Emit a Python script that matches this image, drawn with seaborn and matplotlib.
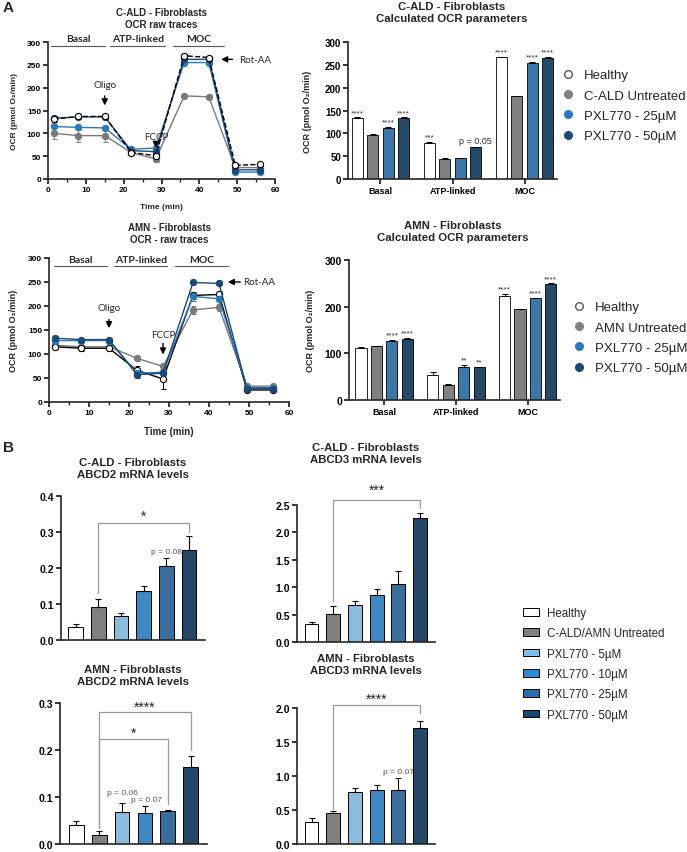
import numpy as np
import pandas as pd
import matplotlib.pyplot as plt
import seaborn as sns
from matplotlib.ticker import MultipleLocator
from matplotlib.lines import Line2D
from matplotlib.patches import Patch

W, H = 687, 853

# ---------------- Panel A: OCR raw traces ----------------
trace_time = [1.5, 8, 15, 22, 28.5, 36, 42.5, 49.5, 56]

cald_healthy = [131, 137, 137, 58, 51, 270, 266, 30, 32]
cald_untreated = [100, 95, 95, 58, 44, 182, 180, 25, 25]
cald_pxl25 = [115, 113, 112, 65, 68, 255, 255, 15, 15]
cald_pxl50 = [133, 136, 136, 62, 60, 262, 262, 20, 20]
cald_healthy_err = [7, 6, 6, 4, 6, 4, 4, 4, 4]
cald_untreated_err = [12, 13, 13, 4, 6, 3, 3, 3, 3]
cald_pxl25_err = [4, 4, 4, 4, 4, 4, 4, 3, 3]
cald_pxl50_err = [4, 4, 4, 4, 4, 4, 4, 3, 3]

amn_healthy = [115, 112, 112, 66, 48, 222, 224, 25, 25]
amn_untreated = [118, 115, 115, 91, 74, 192, 197, 33, 33]
amn_pxl25 = [128, 128, 128, 60, 62, 220, 215, 30, 30]
amn_pxl50 = [133, 130, 130, 57, 60, 249, 247, 28, 28]
amn_healthy_err = [4, 5, 5, 8, 20, 8, 8, 3, 3]
amn_untreated_err = [4, 4, 4, 5, 5, 8, 8, 3, 3]
amn_pxl25_err = [4, 4, 4, 6, 6, 10, 10, 3, 3]
amn_pxl50_err = [4, 4, 4, 6, 6, 4, 4, 3, 3]

# ---------------- Panel A: calculated OCR parameters ----------------
params = ['Basal', 'ATP-linked', 'MOC']
cald_groups = ['Healthy', 'C-ALD Untreated', 'PXL770 - 25µM', 'PXL770 - 50µM']
amn_groups = ['Healthy', 'AMN Untreated', 'PXL770 - 25µM', 'PXL770 - 50µM']

cald_bar_healthy = [133, 78, 267]
cald_bar_untreated = [96, 44, 181]
cald_bar_pxl25 = [112, 45, 254]
cald_bar_pxl50 = [133, 70, 266]
cald_bar_err = [[2, 3, 1], [3, 2, 1], [2, 1, 3], [2, 1, 1]]
cald_sig = [['****', '***', '****'], ['', '', ''], ['****', '', '****'], ['****', 'p = 0.05', '****']]

amn_bar_healthy = [112, 54, 222]
amn_bar_untreated = [115, 33, 194]
amn_bar_pxl25 = [127, 70, 218]
amn_bar_pxl50 = [131, 70, 248]
amn_bar_err = [[2, 5, 5], [1, 2, 1], [1, 5, 1], [2, 1, 2]]
amn_sig = [['', '', '****'], ['', '', ''], ['****', '**', '****'], ['****', '**', '****']]

# ---------------- Panel B: mRNA levels ----------------
mrna_groups = ['Healthy', 'C-ALD/AMN Untreated', 'PXL770 - 5µM', 'PXL770 - 10µM',
               'PXL770 - 25µM', 'PXL770 - 50µM']
cald_abcd2 = [0.037, 0.092, 0.068, 0.136, 0.206, 0.251]
cald_abcd2_err = [0.008, 0.023, 0.007, 0.014, 0.021, 0.038]
cald_abcd3 = [0.33, 0.52, 0.68, 0.86, 1.06, 2.26]
cald_abcd3_err = [0.04, 0.13, 0.06, 0.10, 0.23, 0.09]
amn_abcd2 = [0.041, 0.020, 0.069, 0.066, 0.071, 0.164]
amn_abcd2_err = [0.007, 0.007, 0.018, 0.015, 0.002, 0.023]
amn_abcd3 = [0.33, 0.45, 0.76, 0.79, 0.80, 1.70]
amn_abcd3_err = [0.05, 0.03, 0.07, 0.08, 0.17, 0.11]

# colours
c_gray = '#808080'
c_b25 = '#2b78bb'
c_b50 = '#1c4973'
bar_colors = ['white', c_gray, c_b25, c_b50]
mrna_colors = ['white', c_gray, '#7fbfea', '#2b8bd6', '#2a6eac', '#194672']

sns.set_style('ticks')
plt.rcParams['font.family'] = ['Liberation Sans', 'DejaVu Sans']
plt.rcParams['axes.linewidth'] = 1.2
plt.rcParams['xtick.major.width'] = 1.1
plt.rcParams['ytick.major.width'] = 1.1
plt.rcParams['xtick.minor.width'] = 1.0

fig = plt.figure(figsize=(W / 100, H / 100), dpi=100)


def px_axes(l, t, r, b):
    return fig.add_axes([l / W, 1 - b / H, (r - l) / W, (b - t) / H])


def ftext(x, y, s, **kw):
    fig.text(x / W, 1 - y / H, s, **kw)


def style_axes(ax, fs):
    sns.despine(ax=ax)
    ax.tick_params(labelsize=fs, length=3.5, pad=1.5, colors='black')
    for lab in ax.get_xticklabels() + ax.get_yticklabels():
        lab.set_fontweight('bold')


def trace_panel(ax, series, phases, oligo, fccp, rot, fs):
    for vals, errs, col, fc, ls in series:
        ax.errorbar(trace_time, vals, yerr=errs, fmt='none', ecolor=col,
                    elinewidth=0.7, capsize=1.8, capthick=0.7, zorder=2)
        sns.lineplot(x=trace_time, y=vals, ax=ax, color=col, lw=1.0, linestyle=ls,
                     marker='o', markersize=4.5, markerfacecolor=fc,
                     markeredgecolor=col if fc != 'white' else 'black',
                     markeredgewidth=0.8, errorbar=None, zorder=3)
    ax.set_xlim(0, 60)
    ax.set_ylim(0, 300)
    ax.xaxis.set_major_locator(MultipleLocator(10))
    ax.xaxis.set_minor_locator(MultipleLocator(5))
    ax.yaxis.set_major_locator(MultipleLocator(50))
    ax.tick_params(which='minor', length=2.5)
    style_axes(ax, fs)
    for x0, x1, yl, yt, lab in phases:
        ax.plot([x0, x1], [yl, yl], color='#555555', lw=0.8, clip_on=False)
        ax.text((x0 + x1) / 2, yt, lab, ha='center', va='center', fontsize=7.5,
                fontweight='bold', family='Lato', clip_on=False)
    for (x, yt, y0, y1, lab) in [oligo, fccp]:
        ax.annotate('', xy=(x, y1), xytext=(x, y0),
                    arrowprops=dict(arrowstyle='-|>', color='black', lw=1.0, mutation_scale=9))
        ax.text(x, yt, lab, ha='center', va='center', fontsize=7, family='Lato')
    x0, x1, y, xt = rot
    ax.annotate('', xy=(x0, y), xytext=(x1, y),
                arrowprops=dict(arrowstyle='-|>', color='black', lw=1.0, mutation_scale=9))
    ax.text(xt, y, 'Rot-AA', ha='left', va='center', fontsize=7, family='Lato')


def ocr_bars(ax, groups, series, errs, sigs, ymax_step, fs, xl):
    df = pd.DataFrame({'param': params * 4,
                       'group': np.repeat(groups, 3),
                       'value': np.concatenate(series)})
    sns.barplot(data=df, x='param', y='value', hue='group', order=params, hue_order=groups,
                palette=dict(zip(groups, bar_colors)), width=0.86, gap=0.28,
                edgecolor='black', linewidth=0.6, errorbar=None, legend=False, ax=ax)
    for cont, vals, err, sig in zip(ax.containers, series, errs, sigs):
        for bar, v, e, s in zip(cont, vals, err, sig):
            xc = bar.get_x() + bar.get_width() / 2
            ax.errorbar(xc, v, yerr=[[0], [e]], fmt='none', ecolor='black',
                        elinewidth=0.7, capsize=2, capthick=0.7)
            if s:
                ax.text(xc, v + e + 3, s, ha='center', va='bottom',
                        fontsize=6.5 if s.startswith('p') else 6, color='#333333')
    ax.set_ylim(0, 300)
    ax.set_xlim(*xl)
    ax.yaxis.set_major_locator(MultipleLocator(ymax_step))
    ax.set_xlabel('')
    ax.set_ylabel('OCR (pmol O₂/min)', fontsize=6.5, fontweight='bold')
    style_axes(ax, fs)
    ax.tick_params(axis='x', labelsize=6.5)
    for lab in ax.get_xticklabels():
        lab.set_fontweight('bold')


def mrna_panel(ax, vals, errs, ylim, step, xl):
    sns.barplot(x=mrna_groups, y=vals, hue=mrna_groups, order=mrna_groups,
                hue_order=mrna_groups, palette=mrna_colors, width=0.64,
                edgecolor='black', linewidth=0.7, errorbar=None, legend=False, ax=ax)
    bars = sorted(ax.patches, key=lambda p: p.get_x())
    xs = [b.get_x() + b.get_width() / 2 for b in bars]
    ax.errorbar(xs, vals, yerr=[np.zeros(len(vals)), errs], fmt='none', ecolor='black',
                elinewidth=0.8, capsize=2.5, capthick=0.8)
    ax.set_ylim(*ylim)
    ax.set_xlim(*xl)
    ax.yaxis.set_major_locator(MultipleLocator(step))
    ax.yaxis.set_major_formatter(plt.FormatStrFormatter('%.1f'))
    ax.set_xticks([])
    style_axes(ax, 7.5)
    return xs


def bracket(ax, xs, i0, i1, y, e0, e1, label, ly, fs=10):
    ax.plot([xs[i0], xs[i0], xs[i1], xs[i1]], [e0, y, y, e1], color='#999999', lw=0.9,
            clip_on=False)
    ax.text((xs[i0] + xs[i1]) / 2, ly, label, ha='center', va='center', fontsize=fs,
            clip_on=False)


# ---- A1: C-ALD raw traces
ax1 = px_axes(48, 43, 275, 180)
trace_panel(ax1,
            [(cald_untreated, cald_untreated_err, '#7a7a7a', '#7a7a7a', '-'),
             (cald_pxl25, cald_pxl25_err, c_b25, c_b25, '-'),
             (cald_pxl50, cald_pxl50_err, c_b50, c_b50, '-'),
             (cald_healthy, cald_healthy_err, 'black', 'white', '--')],
            [(0.8, 15, 291, 308, 'Basal'), (16.5, 31, 291, 308, 'ATP-linked'),
             (33, 46.5, 291, 308, 'MOC')],
            (15, 207, 188, 155, 'Oligo'), (28.5, 92, 82, 62, 'FCCP'),
            (45, 49.5, 262, 50.5), 6)
ax1.set_ylabel('OCR (pmol O₂/min)', fontsize=6, fontweight='bold')
ax1.set_xlabel('Time (min)', fontsize=6, fontweight='bold')
ax1.yaxis.set_label_coords(-0.13, 0.5)
ax1.xaxis.set_label_coords(0.5, -0.175)

# ---- A3: AMN raw traces
ax3 = px_axes(49, 259, 289, 403)
trace_panel(ax3,
            [(amn_untreated, amn_untreated_err, '#7a7a7a', '#7a7a7a', '-'),
             (amn_healthy, amn_healthy_err, 'black', 'white', '-'),
             (amn_pxl25, amn_pxl25_err, c_b25, c_b25, '-'),
             (amn_pxl50, amn_pxl50_err, c_b50, c_b50, '-')],
            [(1.25, 14.5, 283, 297, 'Basal'), (16.3, 29.6, 283, 297, 'ATP-linked'),
             (31.5, 44.8, 283, 297, 'MOC')],
            (15, 196, 178, 148, 'Oligo'), (28.5, 140, 128, 93, 'FCCP'),
            (44, 48.5, 250, 48.5), 6)
ax3.set_ylabel('OCR (pmol O₂/min)', fontsize=6.5, fontweight='bold')
ax3.set_xlabel('Time (min)', fontsize=7, fontweight='bold')
ax3.yaxis.set_label_coords(-0.13, 0.5)
ax3.xaxis.set_label_coords(0.5, -0.17)

# ---- A2: C-ALD calculated parameters
ax2 = px_axes(348, 43, 557, 180)
ocr_bars(ax2, cald_groups,
         [cald_bar_healthy, cald_bar_untreated, cald_bar_pxl25, cald_bar_pxl50],
         cald_bar_err, cald_sig, 50, 7, (-0.45, 2.45))
ax2.yaxis.set_label_coords(-0.17, 0.5)

# ---- A4: AMN calculated parameters
ax4 = px_axes(349, 261, 560, 401)
ocr_bars(ax4, amn_groups,
         [amn_bar_healthy, amn_bar_untreated, amn_bar_pxl25, amn_bar_pxl50],
         amn_bar_err, amn_sig, 100, 7.5, (-0.49, 2.45))
ax4.yaxis.set_label_coords(-0.16, 0.5)

# legends for A
for groups, yl, xl in [(cald_groups, 70, 561), (amn_groups, 302, 572)]:
    handles = [Line2D([], [], marker='o', ls='none', ms=5.5, mfc=c,
                      mec='#555555' if c == 'white' else c) for c in bar_colors]
    fig.legend(handles, groups, loc='upper left', bbox_to_anchor=(xl / W, 1 - yl / H),
               frameon=False, fontsize=9.5, handlelength=1.0, handletextpad=0.75,
               labelspacing=0.62, borderpad=0, borderaxespad=0)

# ---- B panels
b1 = px_axes(61, 497, 205, 641)
xs = mrna_panel(b1, cald_abcd2, cald_abcd2_err, (0, 0.4), 0.1, (-0.64, 5.7))
bracket(b1, xs, 1, 5, 0.325, 0.13, 0.30, '*', 0.345)
b1.text(xs[4], 0.245, 'p = 0.08', ha='center', va='center', fontsize=6, color='#555555')

b2 = px_axes(297, 506, 435, 643)
xs = mrna_panel(b2, cald_abcd3, cald_abcd3_err, (0, 2.5), 0.5, (-0.67, 5.69))
bracket(b2, xs, 1, 5, 2.6, 0.75, 2.45, '***', 2.78)

b3 = px_axes(60, 704, 207, 845)
xs = mrna_panel(b3, amn_abcd2, amn_abcd2_err, (0, 0.3), 0.1, (-0.72, 5.72))
bracket(b3, xs, 1, 5, 0.28, 0.035, 0.20, '****', 0.293)
bracket(b3, xs, 1, 4, 0.223, 0.035, 0.085, '*', 0.237)
b3.text(xs[2], 0.11, 'p = 0.06', ha='center', va='center', fontsize=6, color='#555555')
b3.text(xs[3] + 0.05, 0.094, 'p = 0.07', ha='center', va='center', fontsize=6, color='#555555')

b4 = px_axes(297, 709, 435, 845)
xs = mrna_panel(b4, amn_abcd3, amn_abcd3_err, (0, 2.0), 0.5, (-0.67, 5.69))
bracket(b4, xs, 1, 5, 2.04, 0.52, 1.92, '****', 2.14)
b4.text(xs[4], 1.07, 'p = 0.07', ha='center', va='center', fontsize=6, color='#555555')

handles = [Patch(facecolor=c, edgecolor='black', lw=0.7) for c in mrna_colors]
fig.legend(handles, mrna_groups, loc='upper left', bbox_to_anchor=(523 / W, 1 - 608 / H),
           frameon=False, fontsize=8.3, handlelength=1.35, handleheight=0.65,
           handletextpad=0.75, labelspacing=0.72, borderpad=0, borderaxespad=0)

# titles
tkw = dict(ha='center', va='center', fontweight='bold', linespacing=1.15)
ftext(161, 19, 'C-ALD - Fibroblasts\nOCR raw traces', fontsize=7, **tkw)
ftext(452, 13, 'C-ALD - Fibroblasts\nCalculated OCR parameters', fontsize=8.2, **tkw)
ftext(169, 234, 'AMN - Fibroblasts\nOCR - raw traces', fontsize=7, **tkw)
ftext(453, 232, 'AMN - Fibroblasts\nCalculated OCR parameters', fontsize=8.2, **tkw)
ftext(133, 469, 'C-ALD - Fibroblasts\nABCD2 mRNA levels', fontsize=8.2, **tkw)
ftext(366, 454, 'C-ALD - Fibroblasts\nABCD3 mRNA levels', fontsize=8.2, **tkw)
ftext(133, 676, 'AMN - Fibroblasts\nABCD2 mRNA levels', fontsize=8.2, **tkw)
ftext(366, 665, 'AMN - Fibroblasts\nABCD3 mRNA levels', fontsize=8.2, **tkw)

ftext(3, 8, 'A', fontsize=11, fontweight='bold', va='center')
ftext(3, 448, 'B', fontsize=11, fontweight='bold', va='center')

fig.savefig('out.png', dpi=100)
